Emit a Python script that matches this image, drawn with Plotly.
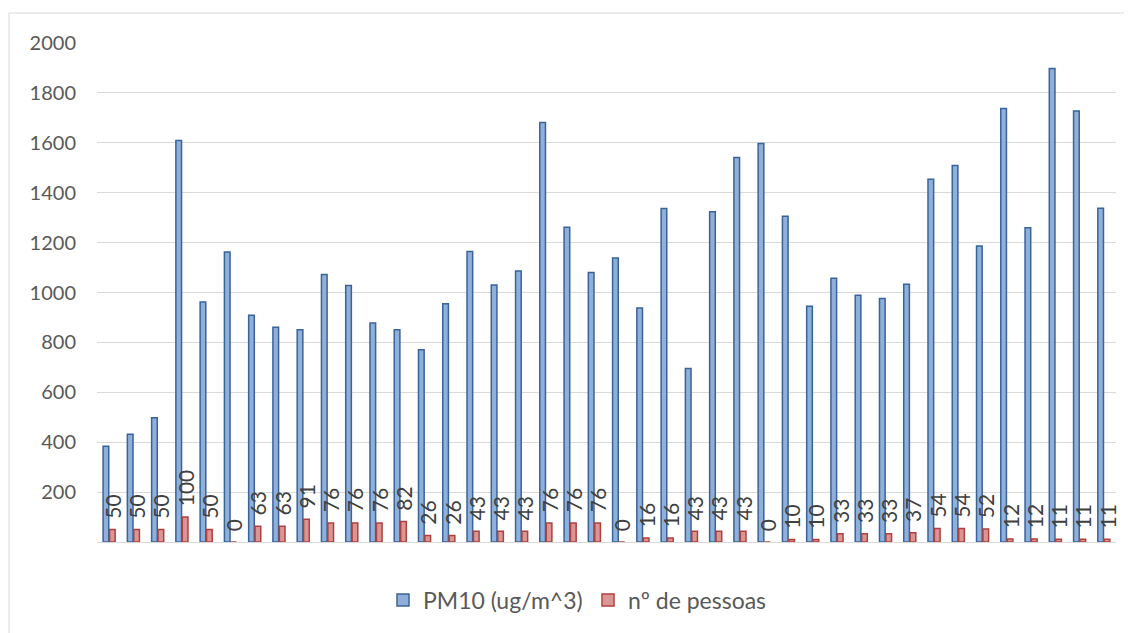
import plotly.graph_objects as go

categories = [str(i) for i in range(1, 43)]
pm10 = [384, 432, 498, 1609, 962, 1162, 909, 861, 851, 1072, 1028, 878, 851, 771,
        955, 1164, 1030, 1086, 1681, 1262, 1080, 1138, 938, 1337, 695, 1324, 1541,
        1597, 1306, 945, 1057, 989, 976, 1033, 1454, 1509, 1186, 1737, 1260, 1898,
        1727, 1338]
pessoas = [50, 50, 50, 100, 50, 0, 63, 63, 91, 76, 76, 76, 82, 26, 26, 43, 43, 43,
           76, 76, 76, 0, 16, 16, 43, 43, 43, 0, 10, 10, 33, 33, 33, 37, 54, 54, 52,
           12, 12, 11, 11, 11]
y_ticks = [200, 400, 600, 800, 1000, 1200, 1400, 1600, 1800, 2000]

FONT = "Lato"
# page body has an 8px margin, so the figure is offset by 8px on screen
W, H = 1124, 625
L, T = 89, 35
pw, ph = 1019, 499
R = W - L - pw
B = H - T - ph
bottom = T + ph

fig = go.Figure()
fig.add_trace(go.Bar(
    x=categories, y=pm10, name="PM10 (ug/m^3)",
    marker=dict(color="#8FB0DA", line=dict(color="#3A6399", width=1.5)),
))
fig.add_trace(go.Bar(
    x=categories, y=pessoas, name="nº de pessoas",
    marker=dict(color="#D99694", line=dict(color="#B0403D", width=1.5)),
    text=["\u00a0\u00a0" + str(v) for v in pessoas],
    texttemplate="%{text}",
    textposition="outside", textangle=-90, constraintext="none", cliponaxis=False,
    textfont=dict(family=FONT, size=21, color="#404040"),
))

fig.update_layout(
    width=W, height=H,
    margin=dict(l=L, r=R, t=T, b=B),
    paper_bgcolor="white", plot_bgcolor="white",
    barmode="group", bargap=0.47, bargroupgap=0.12,
    font=dict(family=FONT, color="#595959", size=20),
    showlegend=True,
    legend=dict(orientation="h", x=(580 - L) / pw, xanchor="center",
                y=(bottom - 592) / ph, yanchor="middle",
                entrywidth=160,
                font=dict(family=FONT, size=23, color="#595959"),
                itemclick=False),
    xaxis=dict(showticklabels=False, showgrid=False, zeroline=False,
               showline=True, linecolor="#D9D9D9", linewidth=1, ticks=""),
    yaxis=dict(range=[0, 2000], tickvals=y_ticks, ticktext=[str(v) for v in y_ticks],
               showgrid=True, gridcolor="#D9D9D9", gridwidth=1.3, zeroline=False,
               showline=False, ticks="", ticklabelstandoff=20,
               tickfont=dict(family=FONT, size=20, color="#595959")),
    shapes=[dict(type="rect", xref="paper", yref="paper",
                 x0=(1 - L) / pw, x1=(W + 10 - L) / pw,
                 y0=(bottom - H - 10) / ph, y1=(bottom - 5) / ph,
                 line=dict(color="#D9D9D9", width=1), fillcolor="rgba(0,0,0,0)",
                 layer="below")],
)

fig.write_html("out.html")
